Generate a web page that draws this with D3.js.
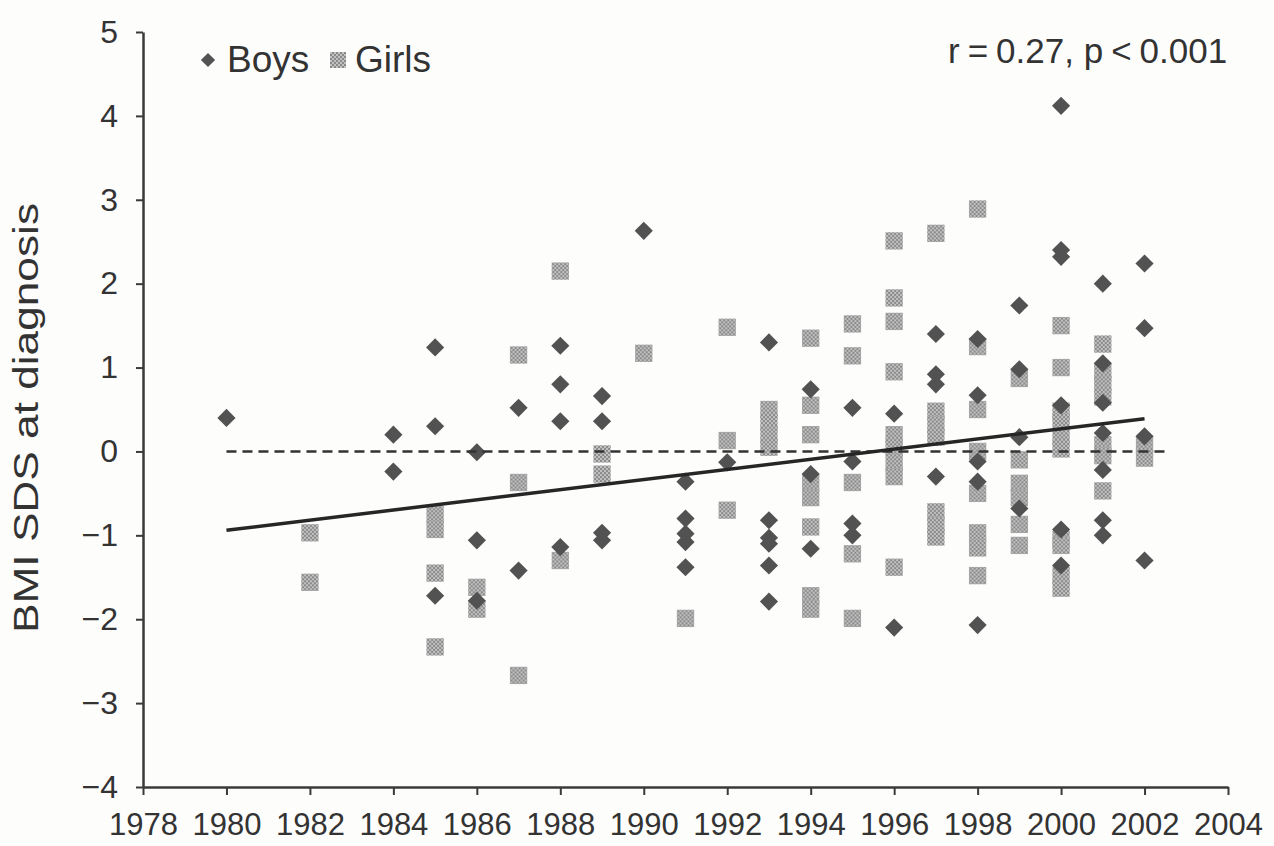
<!DOCTYPE html>
<html>
<head>
<meta charset="utf-8">
<script src="https://cdn.jsdelivr.net/npm/d3@7"></script>
<style>
  html, body { margin: 0; padding: 0; background: #fdfdfc; }
  svg { display: block; }
  text { font-family: "Liberation Sans", Arial, Helvetica, sans-serif; fill: #333; }
</style>
</head>
<body>
<div id="chart"></div>
<script>
/* BMI SDS at diagnosis vs year - scatter */

// Data
var boyYears  = [1980, 1984, 1984, 1985, 1985, 1985, 1986, 1986, 1986, 1987, 1987,
                 1988, 1988, 1988, 1988, 1989, 1989, 1989, 1989, 1990,
                 1991, 1991, 1991, 1991, 1991, 1992,
                 1993, 1993, 1993, 1993, 1993, 1993, 1994, 1994, 1994,
                 1995, 1995, 1995, 1995, 1996, 1996, 1997, 1997, 1997, 1997,
                 1998, 1998, 1998, 1998, 1998, 1999, 1999, 1999, 1999,
                 2000, 2000, 2000, 2000, 2000, 2000,
                 2001, 2001, 2001, 2001, 2001, 2001, 2001,
                 2002, 2002, 2002, 2002];
var boyBmi    = [0.40, 0.20, -0.24, 1.24, 0.30, -1.72, -0.01, -1.06, -1.78, 0.52, -1.42,
                 1.26, 0.80, 0.36, -1.14, 0.66, 0.36, -0.97, -1.06, 2.63,
                 -0.36, -0.80, -0.98, -1.08, -1.38, -0.13,
                 1.30, -0.82, -1.03, -1.10, -1.36, -1.79, 0.74, -0.27, -1.16,
                 0.52, -0.12, -0.86, -1.00, 0.45, -2.10, 1.40, 0.92, 0.80, -0.30,
                 1.34, 0.67, -0.12, -0.36, -2.07, 1.74, 0.98, 0.17, -0.68,
                 4.12, 2.40, 2.32, 0.55, -0.93, -1.36,
                 2.00, 1.05, 0.58, 0.22, -0.22, -0.82, -1.00,
                 2.24, 1.47, 0.18, -1.30];

var girlYears = [1982, 1982, 1985, 1985, 1985, 1985, 1986, 1986, 1987, 1987, 1987,
                 1988, 1988, 1989, 1989, 1990, 1991, 1992, 1992, 1992,
                 1993, 1993, 1993, 1993,
                 1994, 1994, 1994, 1994, 1994, 1994, 1994, 1994,
                 1995, 1995, 1995, 1995, 1995,
                 1996, 1996, 1996, 1996, 1996, 1996, 1996, 1996, 1996,
                 1997, 1997, 1997, 1997, 1997, 1997, 1997,
                 1998, 1998, 1998, 1998, 1998, 1998, 1998, 1998,
                 1999, 1999, 1999, 1999, 1999, 1999,
                 2000, 2000, 2000, 2000, 2000, 2000, 2000, 2000, 2000, 2000,
                 2001, 2001, 2001, 2001, 2001, 2001, 2001,
                 2002, 2002];
var girlBmi   = [-0.97, -1.56, -0.75, -0.93, -1.45, -2.33, -1.62, -1.88, 1.15, -0.37, -2.67,
                 2.15, -1.30, -0.03, -0.27, 1.17, -1.99, 1.48, 0.13, -0.70,
                 0.50, 0.35, 0.20, 0.05,
                 1.35, 0.55, 0.20, -0.38, -0.55, -0.90, -1.72, -1.88,
                 1.52, 1.14, -0.37, -1.22, -1.99,
                 2.51, 1.83, 1.55, 0.95, 0.20, 0.05, -0.13, -0.30, -1.38,
                 2.60, 0.48, 0.32, 0.17, -0.72, -0.88, -1.02,
                 2.89, 1.25, 0.50, 0.00, -0.50, -0.97, -1.15, -1.48,
                 0.87, -0.10, -0.38, -0.55, -0.87, -1.12,
                 1.50, 1.00, 0.48, 0.35, 0.18, 0.03, -1.05, -1.12, -1.48, -1.63,
                 1.28, 0.95, 0.80, 0.65, 0.08, -0.05, -0.47,
                 0.07, -0.08];

// regression line end points and reference line
var fitYears  = [1980, 2002];
var fitBmi    = [-0.94, 0.39];
var refYears  = [1980, 2002.5];
var refBmi    = [0, 0];

var xTicks    = d3.range(1978, 2005, 2);
var yTicks    = d3.range(-4, 6, 1);
var legendLabels = ["Boys", "Girls"];
var statLabel = ["r", "=", "0.27, p", "<", "0.001"];
var yTitle    = "BMI SDS at diagnosis";

// Layout
var width  = 1274,
    height = 846,
    margin = {top: 32, right: 46, bottom: 59, left: 143};

var svg = d3.select("#chart").append("svg")
    .attr("width", width)
    .attr("height", height);

var defs = svg.append("defs");
var pat = defs.append("pattern")
    .attr("id", "girlFill")
    .attr("patternUnits", "userSpaceOnUse")
    .attr("width", 4)
    .attr("height", 4);
pat.append("rect").attr("width", 4).attr("height", 4).attr("fill", "#c2c2c2");
pat.append("rect").attr("width", 2).attr("height", 2).attr("fill", "#8a8a8a");
pat.append("rect").attr("x", 2).attr("y", 2).attr("width", 2).attr("height", 2).attr("fill", "#8a8a8a");

var x = d3.scaleLinear().domain([1978, 2004]).range([margin.left, width - margin.right]);
var y = d3.scaleLinear().domain([-4, 5]).range([height - margin.bottom, margin.top]);

// Points
var boys  = boyYears.map(function (d, i) { return {year: d, bmi: boyBmi[i]}; });
var girls = girlYears.map(function (d, i) { return {year: d, bmi: girlBmi[i]}; });

var squareSym  = d3.symbol().type(d3.symbolSquare).size(300);
var diamondSym = d3.symbol().type(d3.symbolSquare).size(165);

svg.append("g").selectAll("path.girl")
    .data(girls)
    .enter().append("path")
    .attr("class", "girl")
    .attr("d", squareSym)
    .attr("fill", "url(#girlFill)")
    .attr("transform", function (d) { return "translate(" + x(d.year) + "," + y(d.bmi) + ")"; });

svg.append("g").selectAll("path.boy")
    .data(boys)
    .enter().append("path")
    .attr("class", "boy")
    .attr("d", diamondSym)
    .attr("fill", "#525252")
    .attr("transform", function (d) { return "translate(" + x(d.year) + "," + y(d.bmi) + ") rotate(45)"; });

// Lines
var line = d3.line()
    .x(function (d) { return x(d[0]); })
    .y(function (d) { return y(d[1]); });

svg.append("path")
    .datum(refYears.map(function (d, i) { return [d, refBmi[i]]; }))
    .attr("d", line)
    .attr("fill", "none")
    .attr("stroke", "#333")
    .attr("stroke-width", 2.5)
    .attr("stroke-dasharray", "10,6");

svg.append("path")
    .datum(fitYears.map(function (d, i) { return [d, fitBmi[i]]; }))
    .attr("d", line)
    .attr("fill", "none")
    .attr("stroke", "#262626")
    .attr("stroke-width", 3.5);

// Axes
var xAxis = d3.axisBottom(x)
    .tickValues(xTicks)
    .tickFormat(d3.format("d"))
    .tickSize(8)
    .tickSizeOuter(0)
    .tickPadding(18);

var yAxis = d3.axisLeft(y)
    .tickValues(yTicks)
    .tickFormat(d3.format("d"))
    .tickSize(7)
    .tickSizeOuter(0)
    .tickPadding(18);

var gx = svg.append("g")
    .attr("transform", "translate(0," + (height - margin.bottom) + ")")
    .call(xAxis);
var gy = svg.append("g")
    .attr("transform", "translate(" + margin.left + ",0)")
    .call(yAxis);

[gx, gy].forEach(function (g) {
    g.select(".domain").attr("stroke", "#3a3a3a").attr("stroke-width", 2.5);
    g.selectAll(".tick line").attr("stroke", "#3a3a3a").attr("stroke-width", 2);
    g.selectAll(".tick text")
        .attr("fill", "#333")
        .style("font-family", "'Liberation Sans', Arial, sans-serif")
        .style("font-size", "31px");
});
gy.selectAll(".tick text").style("font-size", "32px");

// Y title
svg.append("text")
    .attr("transform", "translate(38," + 418 + ") rotate(-90)")
    .attr("text-anchor", "middle")
    .attr("textLength", 430)
    .attr("lengthAdjust", "spacingAndGlyphs")
    .style("font-size", "35px")
    .text(yTitle);

// Legend
svg.append("path")
    .attr("d", d3.symbol().type(d3.symbolSquare).size(100))
    .attr("fill", "#525252")
    .attr("transform", "translate(208,60) rotate(45)");
svg.append("text")
    .attr("x", 227).attr("y", 72)
    .style("font-size", "37px")
    .text(legendLabels[0]);
svg.append("rect")
    .attr("x", 330).attr("y", 52)
    .attr("width", 16).attr("height", 16)
    .attr("fill", "url(#girlFill)");
svg.append("text")
    .attr("x", 355).attr("y", 72)
    .style("font-size", "37px")
    .text(legendLabels[1]);

// Correlation label
var stat = svg.append("text")
    .attr("x", 948).attr("y", 63)
    .style("font-size", "35px");
statLabel.forEach(function (s, i) {
    stat.append("tspan").attr("dx", i === 0 ? 0 : 8).text(s);
});
</script>
</body>
</html>
